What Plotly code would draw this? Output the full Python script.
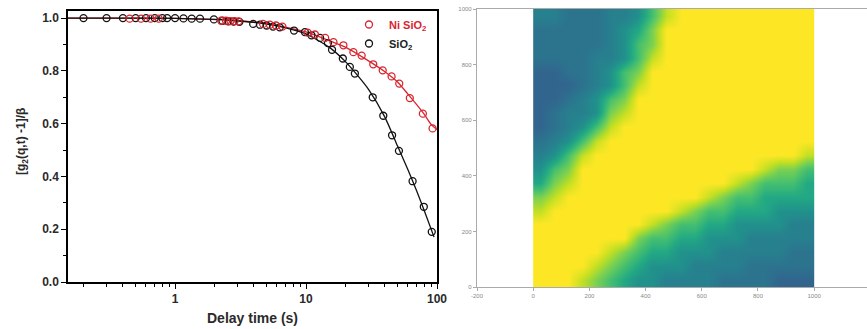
import math
import plotly.graph_objects as go

# ---------------- data: left panel ----------------
sio2_t = [0.2, 0.3, 0.4, 0.5, 0.6, 0.7, 0.8, 0.87, 1.0, 1.16, 1.34, 1.55, 1.98, 2.3, 2.55, 2.8, 3.1,
          3.95, 4.45, 5.0, 5.6, 6.3, 8.1, 9.8, 11.0, 12.8, 14.7, 15.8, 19.1, 21.6, 23.6, 32.3, 38.9,
          45.4, 51.2, 65.1, 79.3, 91.2]
sio2_v = [1.0, 1.0, 1.0, 1.0, 1.0, 1.0, 1.0, 1.0, 1.0, 0.999, 0.998, 0.998, 0.995, 0.99, 0.988, 0.987, 0.986,
          0.978, 0.975, 0.972, 0.968, 0.965, 0.953, 0.947, 0.935, 0.925, 0.905, 0.88, 0.847, 0.815, 0.79, 0.70, 0.63,
          0.556, 0.497, 0.382, 0.285, 0.19]

nisio2_t = [0.45, 0.55, 0.65, 0.75, 2.25, 2.45, 2.65, 2.85, 3.05, 4.7, 5.3, 5.9, 6.6, 10.3, 11.7, 14.0,
            16.2, 19.3, 23.0, 26.6, 32.6, 38.5, 45.0, 51.5, 62.0, 78.0, 92.5]
nisio2_v = [0.998, 0.998, 0.998, 0.998, 0.99, 0.99, 0.989, 0.989, 0.988, 0.978, 0.975, 0.972, 0.968, 0.945, 0.938, 0.925,
            0.909, 0.897, 0.871, 0.858, 0.825, 0.802, 0.779, 0.752, 0.697, 0.638, 0.582]

sio2_fit_t = [0.152, 0.5, 1, 2, 3, 5, 7, 10, 15, 20, 25, 30, 40, 50, 60, 70, 80, 95]
sio2_fit_v = [1.0, 1.0, 0.999, 0.995, 0.99, 0.977, 0.963, 0.94, 0.89, 0.835, 0.78, 0.73, 0.625, 0.515, 0.425, 0.345, 0.27, 0.17]

nisio2_fit_t = [0.152, 1, 3, 5, 10, 15, 20, 30, 40, 50, 60, 70, 80, 90, 100]
nisio2_fit_v = [1.0, 0.999, 0.99, 0.98, 0.948, 0.915, 0.89, 0.838, 0.797, 0.758, 0.712, 0.672, 0.635, 0.598, 0.578]

y_ticks = [0.0, 0.2, 0.4, 0.6, 0.8, 1.0]
x_ticks = [1, 10, 100]

# ---------------- data: right panel (two-time map, levels 0-9, rows top -> bottom) ----------------
hm_centers = [25, 75, 125, 175, 225, 275, 325, 375, 425, 475, 525, 575, 625, 675, 725, 775, 825, 875, 925, 975]
hm_rows = [
    "33222334689999999999",
    "22222345799999999999",
    "22222346799999999999",
    "22223346899999999999",
    "11223467999999999999",
    "11123468999999999999",
    "11234679999999999999",
    "12334789999999999999",
    "12346899999999999999",
    "23468999999999999999",
    "34689999999999999998",
    "46799999999999998776",
    "57899999999999876665",
    "78999999999987665555",
    "89999999998766555444",
    "99999999876655444433",
    "99999997665544433333",
    "99999876554443333322",
    "99998765444333322222",
    "99987654433332222111",
]
hm_ticks = [-200, 0, 200, 400, 600, 800, 1000, 1200]
hm_yticks = [0, 200, 400, 600, 800, 1000]

level_colors = ["#3b528b", "#32658e", "#2c738e", "#27808e", "#21918c",
                "#22a884", "#44bf70", "#7ad151", "#c2df23", "#fde725"]

# ---------------- figure ----------------
W, H = 867, 329
RED = "#d8262f"
BLACK = "#111111"


def px_x(p):
    return p / W


def px_y(p):
    return 1 - p / H


fig = go.Figure()

fig.add_trace(go.Scatter(x=nisio2_fit_t, y=nisio2_fit_v, mode="lines",
                         line=dict(color=RED, width=1.3, shape="spline", smoothing=0.6),
                         showlegend=False, hoverinfo="skip", xaxis="x", yaxis="y"))
fig.add_trace(go.Scatter(x=sio2_fit_t, y=sio2_fit_v, mode="lines",
                         line=dict(color=BLACK, width=1.3, shape="spline", smoothing=0.6),
                         showlegend=False, hoverinfo="skip", xaxis="x", yaxis="y"))
fig.add_trace(go.Scatter(x=sio2_t, y=sio2_v, mode="markers",
                         name="<span style='color:#222222'>SiO<sub>2</sub></span>",
                         marker=dict(symbol="circle-open", size=7, color=BLACK, line=dict(width=1.3, color=BLACK)),
                         xaxis="x", yaxis="y", legendrank=2))
fig.add_trace(go.Scatter(x=nisio2_t, y=nisio2_v, mode="markers",
                         name="<span style='color:#d8262f'>Ni SiO<sub>2</sub></span>",
                         marker=dict(symbol="circle-open", size=7, color=RED, line=dict(width=1.3, color=RED)),
                         xaxis="x", yaxis="y", legendrank=1))

z = [[int(c) for c in row] for row in reversed(hm_rows)]
cs = [[i / 9, c] for i, c in enumerate(level_colors)]
fig.add_trace(go.Heatmap(x=hm_centers, y=hm_centers, z=z, colorscale=cs, zmin=0, zmax=9,
                         showscale=False, zsmooth="best", xaxis="x2", yaxis="y2", hoverinfo="skip"))

tick_font = dict(family="Liberation Sans, Arial", size=12, color="#2a2a2a", weight="bold")
small_font = dict(family="Liberation Sans, Arial", size=6, color="#888888")

fig.update_layout(
    width=W, height=H, autosize=False,
    margin=dict(l=0, r=0, t=0, b=0),
    paper_bgcolor="white", plot_bgcolor="white",
    showlegend=True,
    legend=dict(x=px_x(349), y=px_y(10), xanchor="left", yanchor="top",
                bgcolor="rgba(0,0,0,0)", font=dict(family="Liberation Sans, Arial", size=11, weight="bold"),
                itemwidth=30, tracegroupgap=0),
    xaxis=dict(type="log", domain=[px_x(68), px_x(437)], range=[math.log10(0.1523), 2.0],
               anchor="y", showline=True, linecolor="black", linewidth=1.5, mirror=True,
               ticks="outside", ticklen=5, tickwidth=1.3, tickcolor="black",
               tickvals=x_ticks, ticktext=[str(v) for v in x_ticks], tickfont=tick_font,
               minor=dict(ticks="outside", ticklen=3, tickwidth=1.2, tickcolor="black",
                          tickvals=[0.2, 0.3, 0.4, 0.5, 0.6, 0.7, 0.8, 0.9,
                                    2, 3, 4, 5, 6, 7, 8, 9, 20, 30, 40, 50, 60, 70, 80, 90]),
               showgrid=False, zeroline=False, automargin=False),
    yaxis=dict(domain=[px_y(282), px_y(11)], range=[0, 1.027], anchor="x",
               showline=True, linecolor="black", linewidth=1.5, mirror=True,
               ticks="outside", ticklen=5, tickwidth=1.3, tickcolor="black",
               tickvals=y_ticks, ticktext=[f"{v:.1f}" for v in y_ticks], tickfont=tick_font,
               minor=dict(ticks="outside", ticklen=3, tickwidth=1.2, tickcolor="black",
                          tickvals=[0.1, 0.3, 0.5, 0.7, 0.9]),
               showgrid=False, zeroline=False, automargin=False),
    xaxis2=dict(domain=[px_x(477), 1.0], range=[-200, 1188], anchor="y2",
                showline=True, linecolor="#aaaaaa", linewidth=1.2, mirror=True,
                ticks="outside", ticklen=3, tickwidth=1, tickcolor="#aaaaaa",
                tickvals=hm_ticks, ticktext=[str(v) for v in hm_ticks], tickfont=small_font,
                showgrid=False, zeroline=False, automargin=False),
    yaxis2=dict(domain=[px_y(287), px_y(9)], range=[0, 1000], anchor="x2",
                showline=True, linecolor="#aaaaaa", linewidth=1.2, mirror=False,
                ticks="outside", ticklen=3, tickwidth=1, tickcolor="#aaaaaa",
                tickvals=hm_yticks, ticktext=[str(v) for v in hm_yticks], tickfont=small_font,
                showgrid=False, zeroline=False, automargin=False),
    annotations=[
        dict(text="Delay time (s)", x=px_x(252), y=px_y(318), xref="paper", yref="paper",
             xanchor="center", yanchor="middle",
             showarrow=False, font=dict(family="Liberation Sans, Arial", size=14, color="#2a2a2a", weight="bold")),
        dict(text="[g<sub>2</sub>(q,t) -1]/β", x=px_x(22), y=px_y(142), xref="paper", yref="paper",
             xanchor="center", yanchor="middle",
             textangle=-90, showarrow=False,
             font=dict(family="Liberation Sans, Arial", size=12, color="#2a2a2a", weight="bold")),
    ],
)

fig.write_html("out.html")
